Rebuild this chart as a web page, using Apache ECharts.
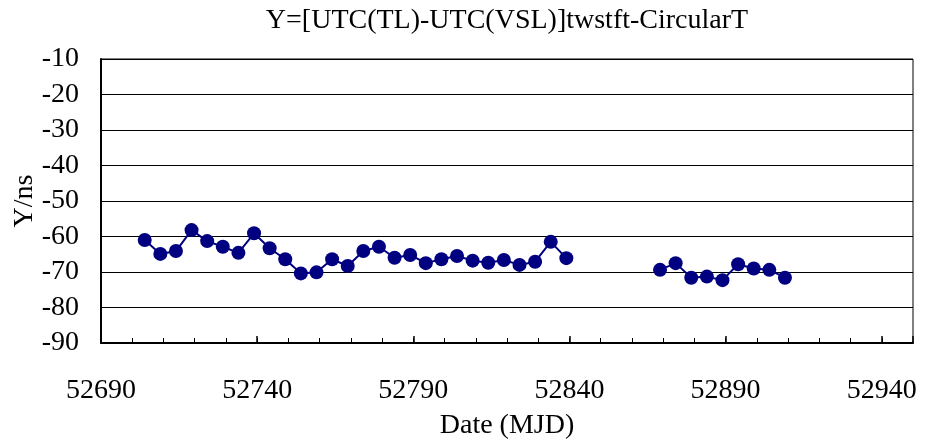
<!DOCTYPE html>
<html>
<head>
<meta charset="utf-8">
<script src="https://cdn.jsdelivr.net/npm/echarts@6/dist/echarts.min.js"></script>
<style>
  html, body { margin: 0; padding: 0; background: #fff; }
  #chart { width: 926px; height: 444px; }
</style>
</head>
<body>
<div id="chart"></div>
<script>
// first run of comparisons
const mjd1 = [52704, 52709, 52714, 52719, 52724, 52729, 52734, 52739, 52744, 52749,
              52754, 52759, 52764, 52769, 52774, 52779, 52784, 52789, 52794, 52799,
              52804, 52809, 52814, 52819, 52824, 52829, 52834, 52839];
const y1 = [-61.0, -64.9, -64.1, -58.2, -61.3, -62.9, -64.6, -59.1, -63.3, -66.4,
            -70.4, -70.1, -66.4, -68.3, -64.1, -62.9, -66.0, -65.2, -67.5, -66.4,
            -65.5, -66.8, -67.4, -66.6, -68.0, -67.1, -61.5, -66.1];
// second run after the gap
const mjd2 = [52869, 52874, 52879, 52884, 52889, 52894, 52899, 52904, 52909];
const y2 = [-69.4, -67.5, -71.6, -71.3, -72.3, -67.8, -69.0, -69.4, -71.6];

const xMin = 52690, xMax = 52950;
const yMin = -90, yMax = -10;

const font = "'Liberation Serif', 'Times New Roman', serif";
const navy = '#000080';

function pairs(xs, ys) {
  return xs.map((x, i) => [x, ys[i]]);
}

const chart = echarts.init(document.getElementById('chart'));
let option = {
  animation: false,
  title: {
    text: 'Y=[UTC(TL)-UTC(VSL)]twstft-CircularT',
    left: 502,
    textAlign: 'center',
    top: 2,
    textStyle: { fontFamily: font, fontSize: 28, fontWeight: 'normal', color: '#000' },
  },
  grid: {
    left: 101,
    right: 13,
    top: 59,
    bottom: 101,
    outerBoundsMode: 'none',
    containLabel: false,
    show: true,
    borderColor: '#000',
    borderWidth: 1,
  },
  xAxis: [
    {
      type: 'value',
      min: xMin,
      max: xMax,
      interval: 10,
      name: 'Date (MJD)',
      nameLocation: 'middle',
      nameGap: 69,
      nameMoveOverlap: false,
      nameTextStyle: { fontFamily: font, fontSize: 28, color: '#000' },
      axisLine: { lineStyle: { color: '#000', width: 2 } },
      axisTick: { inside: true, length: 5, lineStyle: { color: '#000', width: 1 } },
      splitLine: { show: false },
      axisLabel: {
        margin: 34,
        fontFamily: font,
        fontSize: 28,
        color: '#000',
        showMaxLabel: false,
        formatter: (v) => ((v - xMin) % 50 === 0 ? String(v) : ''),
      },
    },
    {
      // major ticks only
      type: 'value',
      min: xMin,
      max: xMax,
      interval: 50,
      position: 'bottom',
      axisLine: { show: false },
      axisTick: { inside: true, length: 7, lineStyle: { color: '#000', width: 1.5 } },
      axisLabel: { show: false },
      splitLine: { show: false },
    },
  ],
  yAxis: {
    type: 'value',
    min: yMin,
    max: yMax,
    interval: 10,
    name: 'Y/ns',
    nameLocation: 'middle',
    nameGap: 62,
    nameMoveOverlap: false,
    nameTextStyle: { fontFamily: font, fontSize: 28, color: '#000' },
    axisLine: { show: true, lineStyle: { color: '#000', width: 2 } },
    axisTick: { show: false },
    axisLabel: { margin: 22, fontFamily: font, fontSize: 28, color: '#000' },
    splitLine: { lineStyle: { color: '#000', width: 1.2 } },
  },
  series: [
    {
      type: 'line',
      data: pairs(mjd1, y1),
      symbol: 'circle',
      symbolSize: 14,
      itemStyle: { color: navy },
      lineStyle: { color: navy, width: 2 },
    },
    {
      type: 'line',
      data: pairs(mjd2, y2),
      symbol: 'circle',
      symbolSize: 14,
      itemStyle: { color: navy },
      lineStyle: { color: navy, width: 2 },
    },
  ],
};

option && chart.setOption(option);
</script>
</body>
</html>
